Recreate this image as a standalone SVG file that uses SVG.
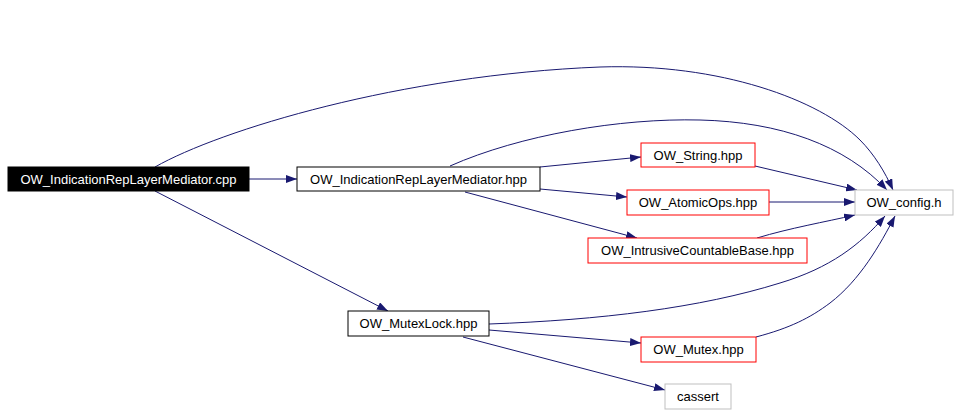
<svg xmlns="http://www.w3.org/2000/svg" width="960" height="415" viewBox="0 0 960 415">
<defs>
<style>
.e{fill:none;stroke:#191970;stroke-width:1}
.n rect{fill:#fff;stroke:#000;stroke-width:1}
.n.r rect{stroke:#ff0000}
.n.g rect{stroke:#bfbfbf}
.n.b rect{fill:#000}
.n text{font-family:"Liberation Sans",Arial,sans-serif;font-size:13px;text-anchor:middle;fill:#000}
.n.b text{fill:#fff}
</style>
<marker id="ah" markerUnits="userSpaceOnUse" markerWidth="11" markerHeight="8" refX="11" refY="4" orient="auto" viewBox="0 0 11 8">
<path d="M0,0 L11,4 L0,8 z" fill="#191970"/>
</marker>
</defs>
<rect width="960" height="415" fill="#fff"/>
<g id="edges">
<path class="e" marker-end="url(#ah)" d="M249,179 L297,179"/>
<path class="e" marker-end="url(#ah)" d="M155,167 C220,130 400,75 600,67 C720,63 820,100 860,140 C874,154 885,172 893,190"/>
<path class="e" marker-end="url(#ah)" d="M155,191 L388,311"/>
<path class="e" marker-end="url(#ah)" d="M540,167 L641,157"/>
<path class="e" marker-end="url(#ah)" d="M540,189 L627,197"/>
<path class="e" marker-end="url(#ah)" d="M465,192 L637,238"/>
<path class="e" marker-end="url(#ah)" d="M450,166 C520,135 620,118 700,120 C780,122 845,145 887,190"/>
<path class="e" marker-end="url(#ah)" d="M755,166 L857,190"/>
<path class="e" marker-end="url(#ah)" d="M769,202 L855,202"/>
<path class="e" marker-end="url(#ah)" d="M757,238 C790,228 825,222 855,215"/>
<path class="e" marker-end="url(#ah)" d="M489,324 C600,320 700,308 780,283 C830,268 860,245 885,216"/>
<path class="e" marker-end="url(#ah)" d="M489,330 L641,343"/>
<path class="e" marker-end="url(#ah)" d="M463,337 L665,390"/>
<path class="e" marker-end="url(#ah)" d="M756,337 C790,328 810,318 830,303 C860,280 880,245 895,216"/>
</g>
<g id="node1" class="n b"><rect x="8" y="167" width="241" height="24"/><text x="128.5" y="184">OW_IndicationRepLayerMediator.cpp</text></g>
<g id="node2" class="n"><rect x="297" y="167" width="243" height="24"/><text x="418.5" y="184">OW_IndicationRepLayerMediator.hpp</text></g>
<g id="node3" class="n r"><rect x="641" y="143" width="114" height="24"/><text x="698" y="160">OW_String.hpp</text></g>
<g id="node4" class="n r"><rect x="627" y="190" width="142" height="25"/><text x="698" y="207">OW_AtomicOps.hpp</text></g>
<g id="node5" class="n r"><rect x="588" y="238" width="219" height="25"/><text x="697.5" y="255">OW_IntrusiveCountableBase.hpp</text></g>
<g id="node6" class="n g"><rect x="855" y="190" width="98" height="25"/><text x="904" y="207">OW_config.h</text></g>
<g id="node7" class="n"><rect x="348" y="311" width="141" height="25"/><text x="418.5" y="328">OW_MutexLock.hpp</text></g>
<g id="node8" class="n r"><rect x="641" y="337" width="115" height="25"/><text x="698.5" y="354">OW_Mutex.hpp</text></g>
<g id="node9" class="n g"><rect x="665" y="384" width="66" height="25"/><text x="698" y="401">cassert</text></g>
</svg>
